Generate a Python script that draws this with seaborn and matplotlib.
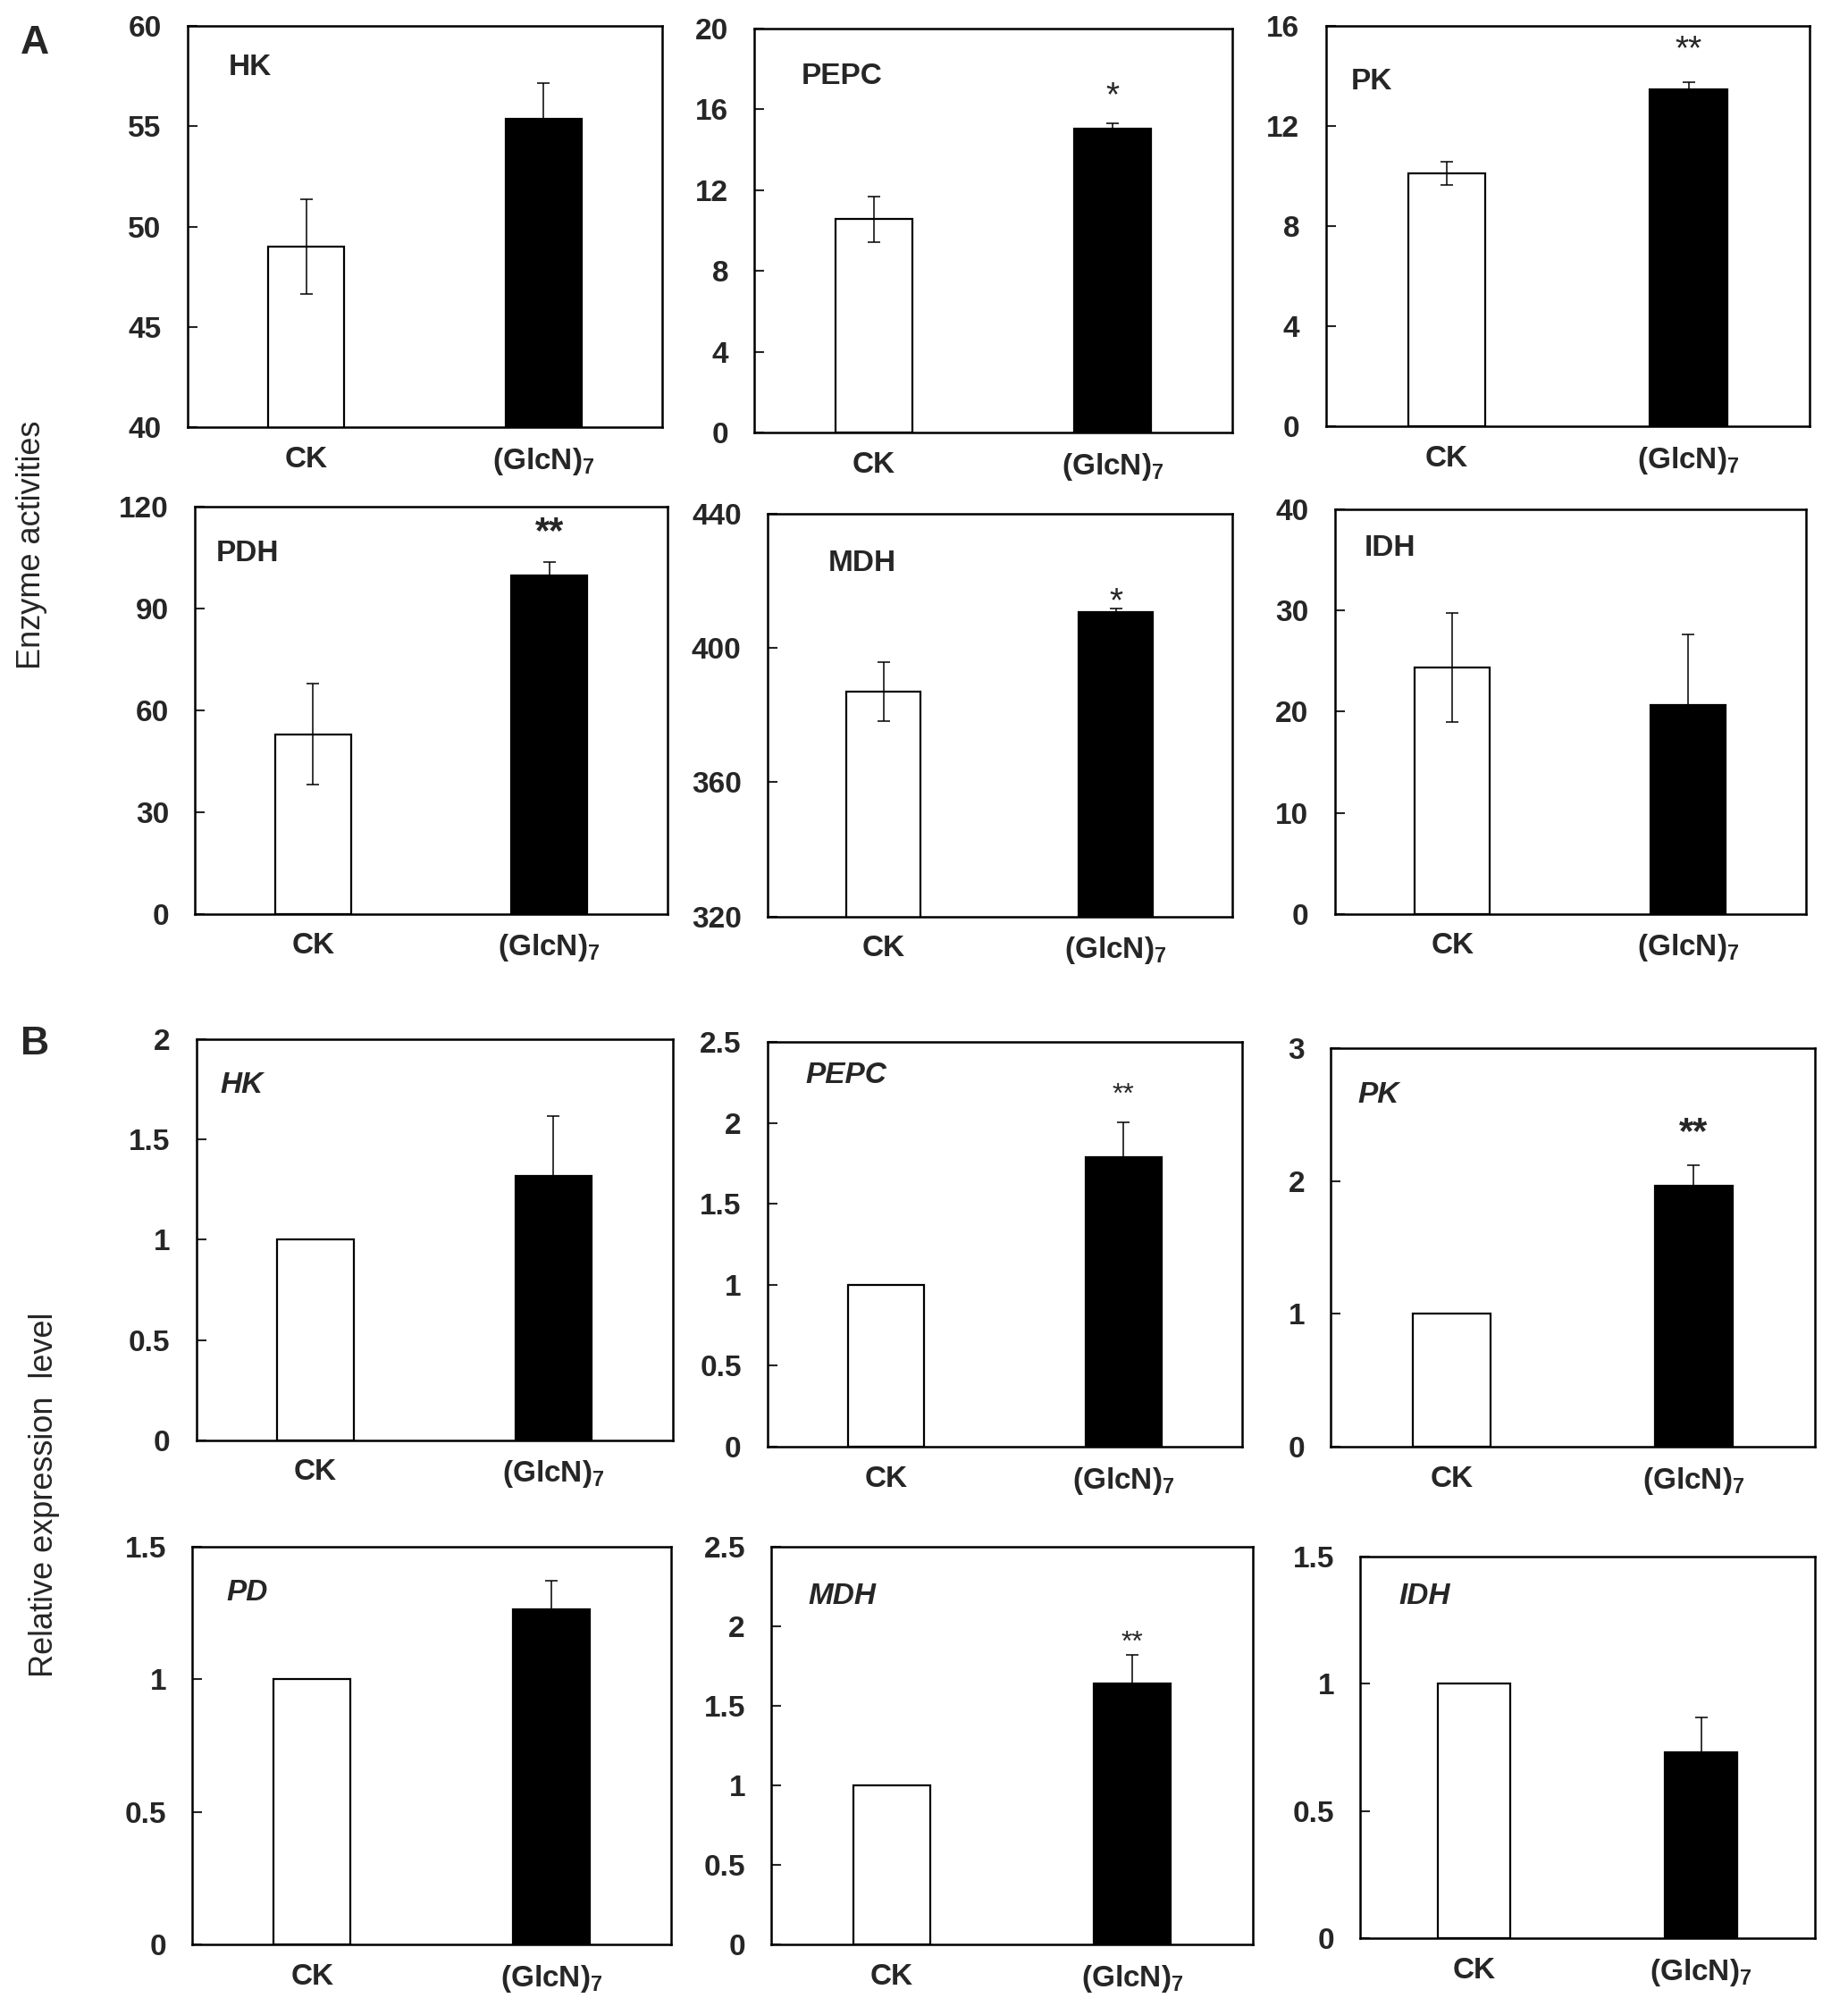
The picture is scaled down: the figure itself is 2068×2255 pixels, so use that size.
import numpy as np
import pandas as pd
import matplotlib
matplotlib.use("Agg")
import matplotlib.pyplot as plt
import seaborn as sns

# ---------------------------------------------------------
# DATA
# ---------------------------------------------------------
groups = ["CK", "(GlcN)$_7$"]

# A: enzyme activities (mean, sd; both directions)
enzyme_names = ["HK", "PEPC", "PK", "PDH", "MDH", "IDH"]
enzyme_mean = [[49.0, 55.35], [10.55, 15.05], [10.1, 13.45], [53.0, 99.9], [386.9, 410.6], [24.4, 20.7]]
enzyme_sd = [[2.35, 1.78], [1.14, 0.25], [0.46, 0.3], [14.8, 3.8], [8.8, 1.0], [5.4, 6.9]]
enzyme_ylim = [(40, 60), (0, 20), (0, 16), (0, 120), (320, 440), (0, 40)]
enzyme_ticks = [[40, 45, 50, 55, 60], [0, 4, 8, 12, 16, 20], [0, 4, 8, 12, 16],
                [0, 30, 60, 90, 120], [320, 360, 400, 440], [0, 10, 20, 30, 40]]
enzyme_sig = ["", "*", "**", "**", "*", ""]
enzyme_sig_y = [None, 16.6, 15.0, 112.5, 413.5, None]

# B: relative expression (mean, upper sd only)
gene_names = ["HK", "PEPC", "PK", "PD", "MDH", "IDH"]
gene_mean = [[1.0, 1.32], [1.0, 1.786], [1.0, 1.965], [1.0, 1.263], [1.0, 1.637], [1.0, 0.732]]
gene_sd = [[0.0, 0.30], [0.0, 0.22], [0.0, 0.155], [0.0, 0.107], [0.0, 0.18], [0.0, 0.137]]
gene_ylim = [(0, 2), (0, 2.5), (0, 3), (0, 1.5), (0, 2.5), (0, 1.5)]
gene_ticks = [[0, 0.5, 1, 1.5, 2], [0, 0.5, 1, 1.5, 2, 2.5], [0, 1, 2, 3],
              [0, 0.5, 1, 1.5], [0, 0.5, 1, 1.5, 2, 2.5], [0, 0.5, 1, 1.5]]
gene_sig = ["", "**", "**", "", "**", ""]
gene_sig_y = [None, 2.17, 2.36, None, 1.89, None]

# ---------------------------------------------------------
# LAYOUT (reference px in a 1440 x 1570 frame: left, right, top, bottom)
# ---------------------------------------------------------
W, H = 1440.0, 1570.0
enzyme_boxes = [(146, 516, 20, 333), (588, 960, 22, 337), (1033, 1410, 20, 332),
                (152, 520, 395, 712), (598, 960, 400, 714), (1040, 1407, 397, 712)]
gene_boxes = [(153, 524, 810, 1122), (598, 968, 812, 1127), (1037, 1414, 817, 1127),
              (150, 523, 1205, 1515), (601, 976, 1205, 1515), (1060, 1414, 1213, 1510)]
enzyme_name_pos = [(0.087, 0.895), (0.097, 0.88), (0.053, 0.86),
                   (0.045, 0.886), (0.13, 0.876), (0.063, 0.905)]
gene_name_pos = [(0.05, 0.885), (0.08, 0.917), (0.056, 0.884),
                 (0.07, 0.884), (0.077, 0.874), (0.085, 0.896)]
enzyme_sig_style = [("bold", 30), ("normal", 28), ("normal", 28), ("bold", 30), ("normal", 28), ("bold", 30)]
gene_sig_style = [("bold", 30), ("normal", 23), ("bold", 30), ("bold", 30), ("normal", 23), ("bold", 30)]

sns.set_style("white")
plt.rcParams["font.family"] = ["Liberation Sans", "DejaVu Sans"]
plt.rcParams["mathtext.fontset"] = "custom"
plt.rcParams["mathtext.rm"] = "Liberation Sans:bold"
plt.rcParams["mathtext.bf"] = "Liberation Sans:bold"
plt.rcParams["mathtext.it"] = "Liberation Sans:italic:bold"

fig = plt.figure(figsize=(20.68, 22.55), dpi=100)


def draw_panel(box, name, name_pos, mean, sd, ylim, ticks, sig, sig_y, sig_style,
               two_sided, italic):
    l, r, t, b = box
    ax = fig.add_axes([l / W, 1 - b / H, (r - l) / W, (b - t) / H])
    df = pd.DataFrame({"group": groups, "value": mean})
    sns.barplot(data=df, x="group", y="value", hue="group", palette=["white", "black"],
                edgecolor="black", linewidth=1.6, width=0.32, errorbar=None,
                legend=False, ax=ax)
    if two_sided:
        yerr = np.array(sd)
    else:
        yerr = np.array([[0, 0], sd])
    ax.errorbar(x=[0, 1], y=mean, yerr=yerr, fmt="none", ecolor="black",
                elinewidth=1.1, capsize=5, capthick=1.1, zorder=5)
    ax.set_xlim(-0.5, 1.5)
    ax.set_ylim(*ylim)
    ax.set_yticks(ticks)
    ax.set_yticklabels([f"{v:g}" for v in ticks], fontsize=24, fontweight="bold")
    ax.set_xticks([0, 1])
    ax.set_xticklabels(groups, fontsize=24, fontweight="bold")
    ax.set_xlabel("")
    ax.set_ylabel("")
    ax.tick_params(axis="y", direction="in", length=8, width=1.5, pad=21, left=True)
    ax.tick_params(axis="x", length=0, pad=15)
    for s in ax.spines.values():
        s.set_visible(True)
        s.set_color("black")
        s.set_linewidth(1.8)
    ax.text(name_pos[0], name_pos[1], name, transform=ax.transAxes, ha="left", va="center",
            fontsize=24, fontweight="bold", fontstyle="italic" if italic else "normal")
    if sig:
        ax.text(1, sig_y, sig, ha="center", va="center", fontsize=sig_style[1],
                fontweight=sig_style[0])
    return ax


for i in range(6):
    draw_panel(enzyme_boxes[i], enzyme_names[i], enzyme_name_pos[i], enzyme_mean[i],
               enzyme_sd[i], enzyme_ylim[i], enzyme_ticks[i], enzyme_sig[i],
               enzyme_sig_y[i], enzyme_sig_style[i], True, False)
    draw_panel(gene_boxes[i], gene_names[i], gene_name_pos[i], gene_mean[i],
               gene_sd[i], gene_ylim[i], gene_ticks[i], gene_sig[i],
               gene_sig_y[i], gene_sig_style[i], False, True)

fig.text(23 / 2068, 1 - 49 / 2255, "A", ha="left", va="center", fontsize=32, fontweight="bold")
fig.text(23 / 2068, 1 - 1168 / 2255, "B", ha="left", va="center", fontsize=32, fontweight="bold")
fig.text(36 / 2068, 1 - 610 / 2255, "Enzyme activities", rotation=90, ha="center",
         va="center", fontsize=26)
fig.text(50 / 2068, 1 - 1673 / 2255, "Relative expression  level", rotation=90,
         ha="center", va="center", fontsize=26)

fig.savefig("out.png", dpi=100, facecolor="white")
